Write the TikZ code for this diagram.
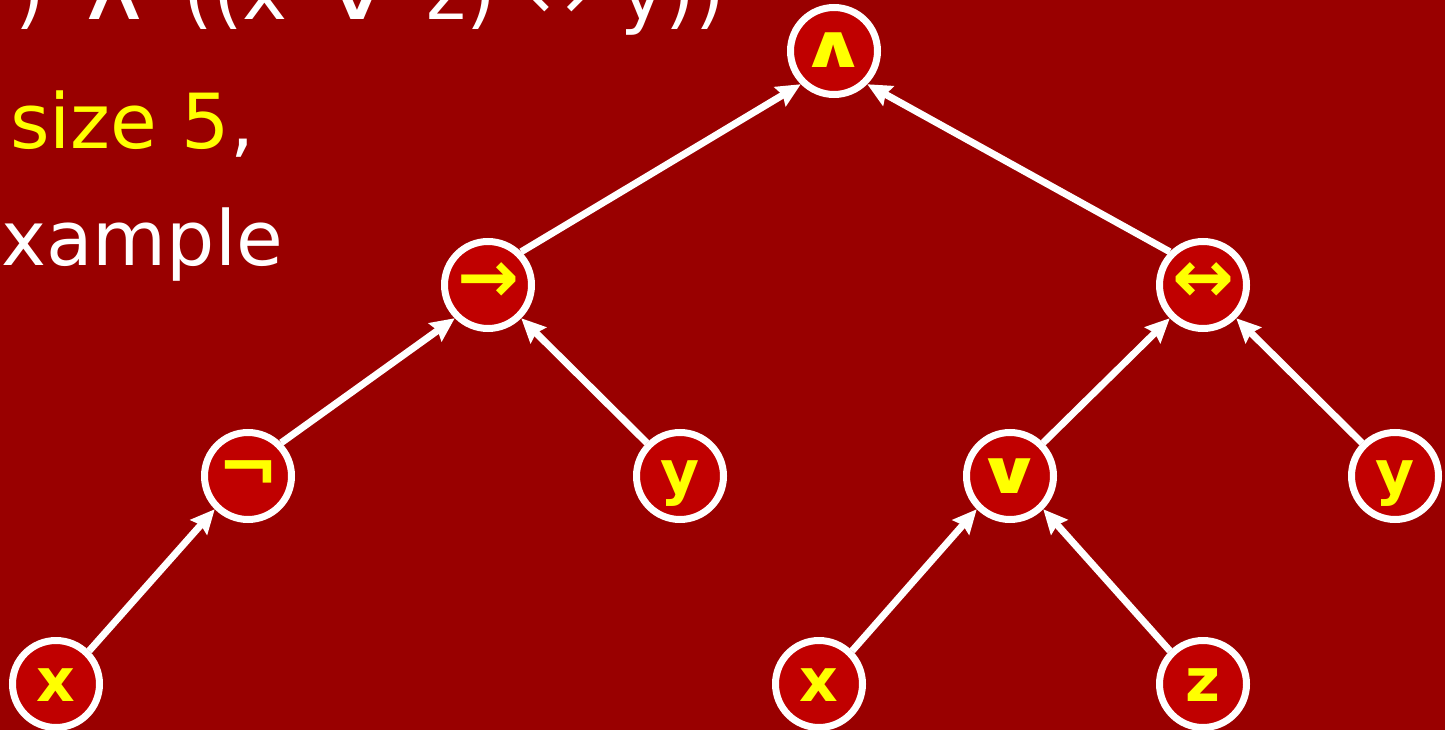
\documentclass[tikz,border=0pt]{standalone}
\usepackage{fontspec}
\setmainfont{DejaVu Sans}
\usetikzlibrary{arrows.meta, positioning}
\definecolor{slidebg}{RGB}{153,0,0}
\definecolor{nodefill}{RGB}{192,0,0}
\definecolor{hilite}{RGB}{255,255,0}
\newcommand{\wideop}[1]{\scalebox{1.4}[1]{#1}}
\newcommand{\bigop}[1]{{\fontsize{74}{74}\selectfont #1}}

\begin{document}
\begin{tikzpicture}[
          x=1pt, y=-1pt,
          op/.style={circle, draw=white, line width=7pt, fill=nodefill,
                     minimum size=87pt, inner sep=0pt,
                     text height=34pt, text depth=0pt,
                     text=hilite, font=\fontsize{60}{60}\selectfont\bfseries},
          txt/.style={anchor=base west, inner sep=0pt,
                      font=\fontsize{76}{90}\selectfont},
          arr/.style={-{Stealth[length=24pt, width=22pt, inset=3pt]},
                      line width=7pt, draw=white}
        ]
        \useasboundingbox (0,0) rectangle (1445,730);
        \fill[slidebg] (0,0) rectangle (1445,730);
        \clip (0,0) rectangle (1445,730);
        % text at the left
        \node[txt, text=white] (formula) at (15,20)
          {\spaceskip=0.4em ) \wideop{∧} ((x \wideop{∨} z) ↔ y))};
        \node[txt, text=hilite] (size) at (10,149) {size 5\textcolor{white}{,}};
        \node[txt, text=white] (ex) at (1,265) {xample};
        % tree
        \node[op] (and) at (834,51) {\wideop{∧}};
        \node[op] (imp) at (488,285) {\bigop{→}};
        \node[op] (iff) at (1203,285) {\bigop{↔}};
        \node[op] (neg) at (248,476) {\bigop{¬}};
        \node[op] (y1) at (680,476) {y};
        \node[op] (or) at (1010,476) {\wideop{∨}};
        \node[op] (y2) at (1395,476) {y};
        \node[op] (x1) at (56,684) {x};
        \node[op] (x2) at (819,684) {x};
        \node[op] (z) at (1203,684) {z};
        % edges leave a child at 45/135 deg and reach the parent at 225/315 deg
        \draw[arr] (imp.45) -- (and.225);
        \draw[arr] (iff.135) -- (and.315);
        \draw[arr] (neg.45) -- (imp.225);
        \draw[arr] (y1.135) -- (imp.315);
        \draw[arr] (or.45) -- (iff.225);
        \draw[arr] (y2.135) -- (iff.315);
        \draw[arr] (x1.45) -- (neg.225);
        \draw[arr] (x2.45) -- (or.225);
        \draw[arr] (z.135) -- (or.315);
      \end{tikzpicture}
\end{document}
